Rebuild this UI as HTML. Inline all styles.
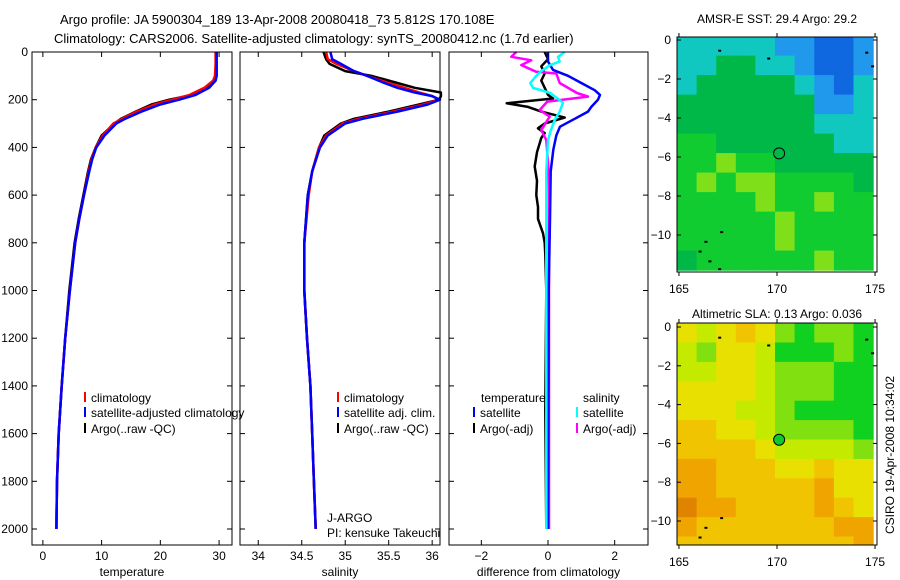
<!DOCTYPE html>
<html><head><meta charset="utf-8">
<style>
html,body{margin:0;padding:0;background:#fff;}
svg{display:block;font-family:"Liberation Sans",sans-serif;}
text{font-size:12px;fill:#000;}
</style></head>
<body>
<svg id="fig" width="900" height="580" viewBox="0 0 900 580" xmlns="http://www.w3.org/2000/svg">
<text x="60" y="24" style="font-size:13px">Argo profile: JA 5900304_189 13-Apr-2008 20080418_73 5.812S 170.108E</text>
<text x="54" y="43" style="font-size:13px">Climatology: CARS2006. Satellite-adjusted climatology: synTS_20080412.nc (1.7d earlier)</text>
<text x="777" y="23" text-anchor="middle">AMSR-E SST: 29.4 Argo: 29.2</text>
<text x="777" y="318" text-anchor="middle">Altimetric SLA: 0.13 Argo: 0.036</text>
<text transform="translate(894,455) rotate(-90)" text-anchor="middle">CSIRO 19-Apr-2008 10:34:02</text>
<g id="layer"></g>
</svg>
<script>
// ---- Temperature panel data ----
const tDepth = [0,50,100,120,150,180,200,220,250,280,300,350,400,450,500,600,700,800,1000,1200,1400,1600,1800,2000];
const tClim  = [29.4,29.4,29.3,29.0,27.5,25,22,19,16,13.5,12,10.2,9,8.3,7.8,7.0,6.2,5.5,4.6,3.8,3.2,2.7,2.4,2.3];
const tSat   = [29.6,29.6,29.6,29.4,28.3,26,23.2,20,16.8,14,12.5,10.5,9.1,8.4,7.9,7.0,6.2,5.5,4.6,3.8,3.2,2.7,2.4,2.3];
const tArgo  = [29.5,29.5,29.4,29.1,27.8,25.5,21.5,18.5,15.8,13.3,12.2,10.0,9.0,8.2,7.7,6.9,6.1,5.4,4.5,3.8,3.2,2.7,2.4,2.3];
// ---- Salinity panel data ----
const sDepth = [0,30,50,80,100,130,150,170,185,200,220,250,280,300,350,400,500,600,800,1000,1200,1400,1600,1800,2000];
const sClim  = [34.78,34.8,34.9,35.1,35.25,35.5,35.68,35.85,36.0,36.08,35.9,35.55,35.15,34.97,34.78,34.7,34.62,34.58,34.53,34.53,34.56,34.6,34.62,34.64,34.66];
const sSat   = [34.83,34.85,34.95,35.1,35.25,35.45,35.6,35.8,36.0,36.09,35.95,35.6,35.2,35.0,34.8,34.71,34.62,34.57,34.53,34.53,34.56,34.6,34.62,34.64,34.66];
const sArgo  = [34.75,34.78,34.82,35.0,35.3,35.6,35.8,36.1,36.1,36.08,35.85,35.5,35.1,34.95,34.76,34.7,34.62,34.57,34.53,34.53,34.56,34.6,34.62,34.64,34.66];
// ---- Difference panel data ----
const dtSatDepth = [0,40,75,100,130,160,180,200,230,250,280,313,350,410,500,700,1000,2000];
const dtSatVal   = [0,0,0.15,0.6,1.0,1.4,1.56,1.5,1.3,1.2,0.8,0.36,0.25,0.16,0.08,0.06,0.02,0];
const dtArgoDepth = [0,30,60,90,120,150,180,195,215,230,250,275,300,320,340,360,420,480,540,600,650,700,760,800,850,1000,1500,2000];
const dtArgoVal   = [-0.1,0,-0.2,-0.1,-0.2,-0.1,0,0.15,-1.24,-0.6,-0.2,0.5,-0.1,-0.3,-0.1,-0.2,-0.33,-0.4,-0.33,-0.35,-0.3,-0.3,-0.15,-0.1,-0.08,-0.05,-0.08,-0.05];
const dsSatDepth = [0,20,40,55,80,100,130,150,172,213,250,285,330,370,500,2000];
const dsSatVal   = [0.5,0.3,0.35,0.07,-0.2,-0.35,-0.53,-0.45,0.07,0.45,0.35,0.2,0.08,0,-0.05,-0.05];
const dsArgoDepth = [0,20,35,55,83,90,130,172,187,208,243,271,327,370,500,600,2000];
const dsArgoVal   = [-0.95,-1.1,-0.5,-0.8,-0.35,0.25,0.35,0.87,1.2,-0.02,-0.25,0.05,-0.2,-0.05,0.02,0.03,0.03];
// ---- Map data (rows: lat 0 -> -12, cols: lon 165 -> 175) ----
const sstGrid = [
 [3,3,3,3,3,4,4,5,5,4],
 [3,3,2,2,3,3,4,5,5,4],
 [3,2,2,2,2,2,3,4,5,3],
 [2,2,2,2,2,2,2,4,4,3],
 [2,2,2,2,2,2,2,3,3,3],
 [1,1,2,2,2,2,2,2,3,3],
 [1,1,0,1,1,2,2,2,2,2],
 [1,0,1,0,0,1,1,1,1,2],
 [1,1,1,1,0,1,1,0,1,1],
 [1,1,1,1,1,0,1,1,1,1],
 [1,1,1,1,1,0,1,1,1,1],
 [2,1,1,1,1,1,1,0,1,1]];
const slaGrid = [
 [3,2,3,4,3,1,0,1,1,0],
 [2,1,3,3,2,0,0,0,1,0],
 [2,2,3,3,2,1,1,1,0,0],
 [3,3,3,3,2,1,1,1,0,0],
 [3,3,3,2,2,1,0,0,0,0],
 [4,4,3,3,2,1,1,1,1,0],
 [4,4,4,4,3,2,2,2,2,1],
 [5,5,4,4,4,3,3,4,3,3],
 [5,5,4,4,4,4,4,5,3,3],
 [6,5,5,4,4,4,4,5,4,3],
 [5,4,4,4,4,4,4,4,5,5],
 [4,4,4,4,4,4,4,4,4,5]];
const sstColors = ["#7fe01a","#10cc30","#00b848","#10c8c0","#2098ec","#1068e0"];
const slaColors = ["#10d020","#80e010","#c4ea00","#e8e000","#f0c400","#f0a400","#e08400"];
const depthTicks = [0,200,400,600,800,1000,1200,1400,1600,1800,2000];
const tTicks = [0,10,20,30];
const sTicks = [34,34.5,35,35.5,36];
const sTickLabels = ["34","34.5","35","35.5","36"];
const dTicks = [-2,0,2];
const latTicks = [0,-2,-4,-6,-8,-10];
const lonTicks = [165,170,175];
const argoLon = 170.108, argoLat = -5.812;

const NS="http://www.w3.org/2000/svg";
const layer=document.getElementById('layer');
function mk(tag,attrs,parent){const e=document.createElementNS(NS,tag);for(const k in attrs)e.setAttribute(k,attrs[k]);(parent||layer).appendChild(e);return e;}
const yTop=52, yBot=545, dMax=(yBot-yTop)/0.2385;
function yD(d){return yTop+d*0.2385;}
function panel(x0,x1,vmin,vmax,name){
  const sx=v=>x0+(v-vmin)/(vmax-vmin)*(x1-x0);
  const g=mk('g',{});
  
  
  return {sx,g,x0,x1};
}
function frame(p,xt,xlabels,showDepthLabels,xlabel){
  const r=mk('rect',{x:p.x0,y:yTop,width:p.x1-p.x0,height:yBot-yTop,fill:'none',stroke:'#000','stroke-width':1},p.g);
  
  
  depthTicks.forEach(d=>{
    const y=yD(d);
    mk('line',{x1:p.x0,x2:p.x0+5,y1:y,y2:y,stroke:'#000'},p.g);
    mk('line',{x1:p.x1,x2:p.x1-5,y1:y,y2:y,stroke:'#000'},p.g);
    if(showDepthLabels){const t=mk('text',{x:p.x0-4,y:y+4,'text-anchor':'end'},p.g);t.textContent=d;
      
      }
  });
  xt.forEach((v,i)=>{
    const x=p.sx(v);
    mk('line',{x1:x,x2:x,y1:yBot,y2:yBot-5,stroke:'#000'},p.g);
    mk('line',{x1:x,x2:x,y1:yTop,y2:yTop+5,stroke:'#000'},p.g);
    const t=mk('text',{x:x,y:560,'text-anchor':'middle'},p.g);t.textContent=xlabels[i];
    
    
  });
  const t=mk('text',{x:(p.x0+p.x1)/2,y:576,'text-anchor':'middle'},p.g);t.textContent=xlabel;
  
  
}
function line(p,depths,vals,color,w,name){
  const pts=depths.map((d,i)=>p.sx(vals[i]).toFixed(1)+','+yD(d).toFixed(1)).join(' ');
  const l=mk('polyline',{points:pts,fill:'none',stroke:color,'stroke-width':w,'stroke-linejoin':'round'},p.g);
  
  
}
function legend(p,x,y,color,label){
  mk('line',{x1:x,x2:x,y1:y-10,y2:y,stroke:color,'stroke-width':2},p.g);
  const t=mk('text',{x:x+6,y:y},p.g);t.textContent=label;
  
  
}
// Temperature
const pT=panel(32,232,-1.85,32.2,'temperature-panel');
line(pT,tDepth,tArgo,'#000',2.5,'argo-temperature-line');
line(pT,tDepth,tClim,'#f00',2.5,'climatology-temperature-line');
line(pT,tDepth,tSat,'#00f',2.5,'satellite-temperature-line');
frame(pT,tTicks,tTicks.map(String),true,'temperature');
legend(pT,85,402,'#f00','climatology');
legend(pT,85,417,'#00f','satellite-adjusted climatology');
legend(pT,85,433,'#000','Argo(..raw -QC)');
// Salinity
const pS=panel(240,440,33.79,36.09,'salinity-panel');
line(pS,sDepth,sArgo,'#000',2.5,'argo-salinity-line');
line(pS,sDepth,sClim,'#f00',2.5,'climatology-salinity-line');
line(pS,sDepth,sSat,'#00f',2.5,'satellite-salinity-line');
frame(pS,sTicks,sTickLabels,false,'salinity');
legend(pS,338,402,'#f00','climatology');
legend(pS,338,417,'#00f','satellite adj. clim.');
legend(pS,338,433,'#000','Argo(..raw -QC)');
let tx=mk('text',{x:327,y:522},pS.g);tx.textContent='J-ARGO';


tx=mk('text',{x:327,y:537},pS.g);tx.textContent='PI: kensuke Takeuchi';


// Difference
const pD=panel(449,648,-2.97,3.0,'difference-panel');
line(pD,dtArgoDepth,dtArgoVal,'#000',2.5,'argo-temperature-diff-line');
line(pD,dsArgoDepth,dsArgoVal,'#f0f',2.5,'argo-salinity-diff-line');
line(pD,dtSatDepth,dtSatVal,'#00f',2.5,'satellite-temperature-diff-line');
line(pD,dsSatDepth,dsSatVal,'#0ff',2.5,'satellite-salinity-diff-line');
frame(pD,dTicks,dTicks.map(v=>v<0?'\u2212'+(-v):String(v)),false,'difference from climatology');
tx=mk('text',{x:481,y:402},pD.g);tx.textContent='temperature';


tx=mk('text',{x:583,y:402},pD.g);tx.textContent='salinity';


legend(pD,474,417,'#00f','satellite');
legend(pD,474,433,'#000','Argo(-adj)');
legend(pD,577,417,'#0ff','satellite');
legend(pD,577,433,'#f0f','Argo(-adj)');
// Maps
function map(grid,colors,top,bot,lat0y,pxPerDeg,name,filled){
  const x0=677,x1=877,lonMin=164.9,lonMax=175.1;
  const sx=v=>x0+(v-lonMin)/(lonMax-lonMin)*(x1-x0);
  const sy=v=>lat0y-v*pxPerDeg;
  const g=mk('g',{});
  
  
  const cp=mk('clipPath',{id:'cp'+name},g);
  mk('rect',{x:x0,y:top,width:x1-x0,height:bot-top},cp);
  const cg=mk('g',{'clip-path':'url(#cp'+name+')'},g);
  grid.forEach((row,r)=>row.forEach((v,c)=>{
    const lx=sx(165+c-0.1), ly=sy(0.2-r);
    const cell=mk('rect',{x:lx.toFixed(1),y:ly.toFixed(1),width:(sx(166)-sx(165)+0.6).toFixed(1),height:(pxPerDeg+0.6).toFixed(1),fill:colors[v]},cg);
    
    
  }));
  [[166,-10.8],[166.3,-10.3],[166.5,-11.3],[167,-11.7],[167.1,-9.8],[169.5,-0.9],[174.5,-0.6],[174.8,-1.3],[167,-0.5]].forEach(p=>{
    mk('rect',{x:sx(p[0]),y:sy(p[1]),width:3,height:2,fill:'#000'},cg);
  });
  mk('rect',{x:x0,y:top,width:x1-x0,height:bot-top,fill:'none',stroke:'#000'},g);
  latTicks.forEach(v=>{
    const y=sy(v);
    mk('line',{x1:x0,x2:x0+4,y1:y,y2:y,stroke:'#000'},g);
    mk('line',{x1:x1,x2:x1-4,y1:y,y2:y,stroke:'#000'},g);
    const t=mk('text',{x:x0-6,y:y+4,'text-anchor':'end'},g);t.textContent=v<0?'\u2212'+(-v):v;
    
    
  });
  lonTicks.forEach(v=>{
    const x=sx(v);
    mk('line',{x1:x,x2:x,y1:bot,y2:bot+4,stroke:'#000'},g);
    mk('line',{x1:x,x2:x,y1:top,y2:top-4,stroke:'#000'},g);
    const t=mk('text',{x:x,y:bot+21,'text-anchor':'middle'},g);t.textContent=v;
    
    
  });
  const c=mk('circle',{cx:sx(argoLon),cy:sy(argoLat),r:5.5,fill:filled?'#10c830':'none',stroke:'#000','stroke-width':1},g);
  
  
}
map(sstGrid,sstColors,37,272,40,19.5,'sst-map',false);
map(slaGrid,slaColors,323,545,327,19.4,'sla-map',true);
</script>
</body></html>
